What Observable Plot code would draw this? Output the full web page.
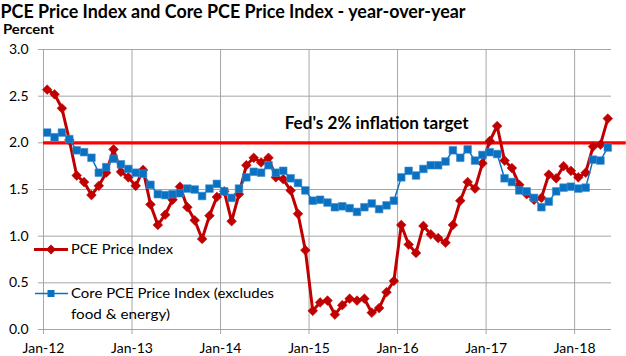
<!DOCTYPE html>
<html><head><meta charset="utf-8">
<script src="https://cdn.jsdelivr.net/npm/d3@7"></script>
<script src="https://cdn.jsdelivr.net/npm/@observablehq/plot@0.6"></script>
<style>
body{margin:0;background:#fff;}
#wrap{position:relative;width:626px;height:356px;overflow:hidden;}
#wrap > svg{position:absolute;left:0;top:0;}
</style></head><body><div id="wrap"></div>
<script>
// ---- data ----
const title = "PCE Price Index and Core PCE Price Index - year-over-year";
const yLabel = "Percent";
const seriesPCE = "PCE Price Index";
const seriesCoreLines = ["Core PCE Price Index (excludes", "food & energy)"];
const xTickLabels = ["Jan-12","Jan-13","Jan-14","Jan-15","Jan-16","Jan-17","Jan-18"];
const yTicks = [0, 0.5, 1, 1.5, 2, 2.5, 3];
const target = 2.0;
const targetLabel = "Fed's 2% inflation target";
// monthly, Jan 2012 .. May 2018
const pce = [
  2.57, 2.52, 2.37, 2.03, 1.65, 1.58, 1.44, 1.54, 1.68, 1.93, 1.69, 1.63,
  1.54, 1.71, 1.34, 1.12, 1.23, 1.39, 1.53, 1.31, 1.17, 0.97, 1.22, 1.42,
  1.48, 1.16, 1.45, 1.76, 1.84, 1.79, 1.84, 1.63, 1.61, 1.49, 1.24, 0.85,
  0.20, 0.29, 0.31, 0.16, 0.26, 0.33, 0.31, 0.33, 0.18, 0.23, 0.40, 0.52,
  1.12, 0.91, 0.82, 1.11, 1.02, 0.98, 0.93, 1.12, 1.38, 1.58, 1.51, 1.78,
  2.02, 2.18, 1.81, 1.73, 1.55, 1.45, 1.39, 1.41, 1.66, 1.62, 1.75, 1.70,
  1.63, 1.68, 1.96, 1.98, 2.26
];
const core = [
  2.11, 2.06, 2.11, 2.04, 1.92, 1.90, 1.84, 1.68, 1.74, 1.83, 1.77, 1.72,
  1.68, 1.67, 1.55, 1.45, 1.44, 1.45, 1.46, 1.51, 1.50, 1.43, 1.51, 1.56,
  1.48, 1.41, 1.51, 1.63, 1.69, 1.68, 1.76, 1.68, 1.70, 1.62, 1.57, 1.49,
  1.38, 1.39, 1.36, 1.31, 1.32, 1.30, 1.26, 1.31, 1.35, 1.29, 1.33, 1.38,
  1.63, 1.70, 1.65, 1.72, 1.76, 1.76, 1.80, 1.92, 1.84, 1.93, 1.81, 1.87,
  1.90, 1.88, 1.62, 1.58, 1.49, 1.48, 1.41, 1.31, 1.37, 1.48, 1.52, 1.53,
  1.51, 1.52, 1.82, 1.81, 1.95
];

// ---- build ----
const FONT = "Lato, 'Open Sans', sans-serif";
const GRID = "#a6a6a6";
const RED = "#c00000", BLUE = "#0a70c0", TARGET = "#ff0000";
const nMonths = pce.length;
const rows = pce.map((v, i) => ({m: i + 0.5, pce: v, core: core[i]}));
const xTicks = xTickLabels.map((_, k) => k * 12);

const chart = Plot.plot({
  width: 626, height: 356,
  marginLeft: 43, marginRight: 15, marginTop: 49, marginBottom: 27,
  style: {fontFamily: FONT, fontSize: "14px", color: "#000", background: "transparent"},
  x: {type: "linear", domain: [0, nMonths], axis: null},
  y: {domain: [0, 3], axis: null},
  marks: [
    Plot.gridY(yTicks, {stroke: GRID, strokeOpacity: 1, strokeWidth: 1}),
    Plot.gridX(xTicks, {stroke: GRID, strokeOpacity: 1, strokeWidth: 1}),
    Plot.axisY(yTicks, {tickSize: 5, tickPadding: 10, stroke: GRID, fill: "#000", fontSize: 14, tickFormat: d3.format(".1f"), label: null}),
    Plot.axisX(xTicks, {tickSize: 5, tickPadding: 9, stroke: GRID, fill: "#000", fontSize: 14, tickFormat: d => xTickLabels[d / 12], label: null}),
    Plot.ruleY([target], {x1: 0, x2: 79, stroke: TARGET, strokeWidth: 3.2}),
    Plot.text([targetLabel], {x: 32.7, y: target, dy: -19, textAnchor: "start", fontWeight: "bold", fontSize: 16.5, fill: "#000", className: "target-label"}),
    Plot.line(rows, {x: "m", y: "pce", stroke: RED, strokeWidth: 3}),
    Plot.dot(rows, {x: "m", y: "pce", symbol: "diamond2", r: 4.4, fill: RED, stroke: RED, strokeWidth: 0.5}),
    Plot.line(rows, {x: "m", y: "core", stroke: BLUE, strokeWidth: 1.5}),
    Plot.dot(rows, {x: "m", y: "core", symbol: "square", r: 4.3, fill: BLUE, stroke: "#3c8fd4", strokeWidth: 0.6})
  ]
});

const wrap = document.getElementById("wrap");
wrap.appendChild(chart);
d3.select(chart).selectAll("g.target-label text")
  .attr("textLength", 184).attr("lengthAdjust", "spacingAndGlyphs");

// overlay: title, y label, legend
const ov = d3.select(wrap).append("svg").attr("width", 626).attr("height", 356)
  .style("font-family", FONT).style("pointer-events", "none");
ov.append("text").attr("x", 0.5).attr("y", 17.5).attr("font-size", 18).attr("font-weight", "bold")
  .attr("textLength", 465).attr("lengthAdjust", "spacingAndGlyphs").text(title);
ov.append("text").attr("x", 3).attr("y", 34).attr("font-size", 13).attr("font-weight", "bold")
  .attr("textLength", 51).attr("lengthAdjust", "spacingAndGlyphs").text(yLabel);

// legend
const lg = ov.append("g");
lg.append("line").attr("x1", 34).attr("x2", 68).attr("y1", 249.5).attr("y2", 249.5).attr("stroke", RED).attr("stroke-width", 3);
lg.append("path").attr("d", "M51,244.5L56,249.5L51,254.5L46,249.5Z").attr("fill", RED);
lg.append("text").attr("x", 71).attr("y", 249.5).attr("dy", "0.35em").attr("font-size", 14)
  .attr("textLength", 102).attr("lengthAdjust", "spacingAndGlyphs").text(seriesPCE);
lg.append("line").attr("x1", 35).attr("x2", 68).attr("y1", 293.5).attr("y2", 293.5).attr("stroke", BLUE).attr("stroke-width", 1.5);
lg.append("rect").attr("x", 47.5).attr("y", 290).attr("width", 7).attr("height", 7).attr("fill", BLUE);
lg.append("text").attr("x", 71).attr("y", 293.5).attr("dy", "0.35em").attr("font-size", 14)
  .attr("textLength", 203).attr("lengthAdjust", "spacingAndGlyphs").text(seriesCoreLines[0]);
lg.append("text").attr("x", 71).attr("y", 314.5).attr("dy", "0.35em").attr("font-size", 14)
  .attr("textLength", 99).attr("lengthAdjust", "spacingAndGlyphs").text(seriesCoreLines[1]);
</script></body></html>
